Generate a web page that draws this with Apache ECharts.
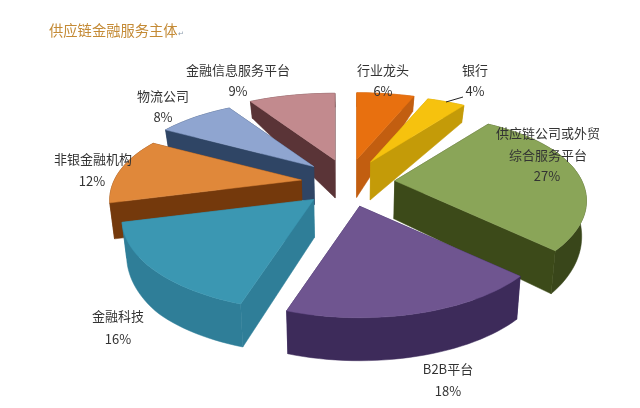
<!DOCTYPE html>
<html><head><meta charset="utf-8">
<style>html,body{margin:0;padding:0;background:#fff}#c{width:640px;height:408px}</style>
<script src="https://cdn.jsdelivr.net/npm/echarts@6/dist/echarts.min.js"></script>
</head><body><div id="c"></div>
<script>
const categories = ['行业龙头','银行','供应链公司或外贸\n综合服务平台','B2B平台','金融科技','非银金融机构','物流公司','金融信息服务平台'];
const values = [6,4,27,18,16,12,8,9];
const topColors = ['#E8700F','#F6C20E','#8AA558','#6F5590','#3B97B2','#E0883A','#8FA5D0','#C28A8E'];
const edgeColors = ['#C25E10','#C49B08','#3C4A19','#35255A','#2F7E98','#74390C','#2F4565','#5A3437'];
const rimColors = ['#C25E10','#C49B08','#39461A','#3D2B5A','#2F7E98','#74390C','#2F4565','#5A3437'];
const labelCentres = [[383,70],[475,70],[548,144],[448,369],[118,316],[93,159],[163,96],[238,70]];
const percentCentres = [[383,91],[475,91],[547,176],[448,391],[118,339],[92,181],[163,117],[238,91]];

const CX=348, CY=183, R=187, TILT=0.465, PERSP=0.22, EXPLODE_X=47, EXPLODE_Y=24, LEAN=0.98;
const total = values.reduce((a,b)=>a+b,0);
const rad = d => d*Math.PI/180;
let acc=0;
const spans = values.map(v=>{const s=acc/total*360; acc+=v; return [s,acc/total*360];});
const mids = spans.map(s=>(s[0]+s[1])/2);
const rank = mids.map(m=>Math.cos(rad(m))).map((c,i,a)=>a.filter(o=>o>c).length);

function thick(c){
  if(c>0) return 32-18*c;
  if(c>-0.68) return 32-16*c;
  return 43;
}
function apexOf(i){ const m=rad(mids[i]); return [CX+EXPLODE_X*Math.sin(m), CY-EXPLODE_Y*Math.cos(m)]; }
function rimPt(i,angle){
  const a=rad(angle), A=apexOf(i), c=Math.cos(a), s=R/(1+PERSP*c);
  const t=TILT-0.03*Math.max(c,0);
  return [A[0]+s*Math.sin(a), A[1]-t*s*c];
}
function drop(p,h){ return [CX+(p[0]-CX)*LEAN, p[1]+h]; }

function renderItem(params,api){
  const i=params.dataIndex, base=(rank[i]+1)*10;
  const [a0,a1]=spans[i];
  const apex=apexOf(i);
  const arc=[]; const steps=Math.max(4,Math.round((a1-a0)/2));
  for(let k=0;k<=steps;k++) arc.push(a0+(a1-a0)*k/steps);
  const rim=arc.map(a=>rimPt(i,a));
  const rimLow=arc.map((a,k)=>drop(rim[k],thick(Math.cos(rad(a)))));
  const apexLow=drop(apex,38);
  const poly=(pts,fill,z)=>({type:'polygon',z2:base+z,shape:{points:pts},style:{fill,stroke:fill,lineWidth:0.5}});
  const walls=[
    {p:[apex,rim[0],rimLow[0],apexLow],y:(apex[1]+rim[0][1])/2,f:edgeColors[i]},
    {p:[apex,rim[steps],rimLow[steps],apexLow],y:(apex[1]+rim[steps][1])/2,f:edgeColors[i]},
    {p:rim.concat(rimLow.slice().reverse()),y:rim[steps>>1][1],f:rimColors[i]}
  ].sort((a,b)=>a.y-b.y);
  const children=walls.map((w,k)=>poly(w.p,w.f,k));
  children.push(poly([apex].concat(rim),topColors[i],5));
  return {type:'group',children};
}

const textGraphics=[];
categories.forEach((name,i)=>{
  textGraphics.push({type:'text',x:labelCentres[i][0],y:labelCentres[i][1],z:100,zlevel:1,style:{text:name,font:'13px "Noto Sans CJK SC"',fill:'#333',align:'center',verticalAlign:'middle',lineHeight:22}});
  textGraphics.push({type:'text',x:percentCentres[i][0],y:percentCentres[i][1],z:100,zlevel:1,style:{text:values[i]+'%',font:'13px "Noto Sans CJK SC"',fill:'#333',align:'center',verticalAlign:'middle'}});
});
textGraphics.push({type:'text',x:49,y:31,z:100,zlevel:1,style:{text:'供应链金融服务主体',font:'14.3px "Noto Sans CJK SC"',fill:'#C48A35',align:'left',verticalAlign:'middle'}});
textGraphics.push({type:'text',x:178,y:34,z:100,zlevel:1,style:{text:'↵',font:'7px "DejaVu Sans"',fill:'#8899AA',align:'left',verticalAlign:'middle'}});
textGraphics.push({type:'line',z:100,zlevel:1,shape:{x1:446,y1:102,x2:463,y2:97},style:{stroke:'#222',lineWidth:1}});

const chart=echarts.init(document.getElementById('c'));
chart.setOption({
  backgroundColor:'#fff',
  animation:false,
  graphic:textGraphics,
  series:[{type:'custom',coordinateSystem:'none',renderItem,data:values.map((v,i)=>[v,i])}]
});
</script></body></html>
